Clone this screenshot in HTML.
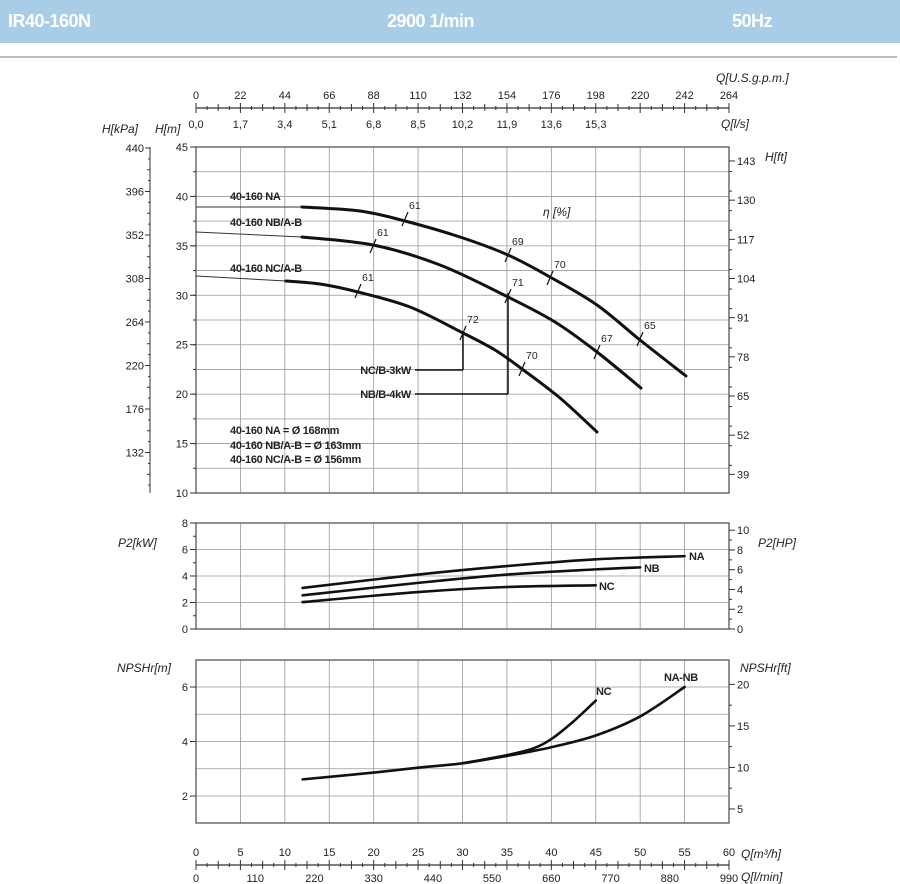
<!DOCTYPE html>
<html><head><meta charset="utf-8">
<style>
html,body{margin:0;padding:0;background:#fff;}
body{width:900px;height:884px;overflow:hidden;position:relative;font-family:"Liberation Sans",sans-serif;}
.hdr{position:absolute;left:0;top:0;width:900px;height:43px;background:#a9cde6;}
.hdr span{position:absolute;top:11px;color:#fff;font-weight:bold;font-size:18px;letter-spacing:-0.5px;}
.rule{position:absolute;left:0;top:56px;width:897px;height:2px;background:#bbb;}
svg{position:absolute;left:0;top:0;}
</style></head><body>
<div class="hdr"><span style="left:8px">IR40-160N</span><span style="left:387px">2900 1/min</span><span style="left:732px">50Hz</span></div>
<div class="rule"></div>
<svg id="s" width="900" height="884" xmlns="http://www.w3.org/2000/svg" font-family="Liberation Sans, sans-serif" font-size="11" fill="#222"></svg>
<script>
var s=document.getElementById('s');var o='';
function X(q){return 196+q*533/60;}
function Hy(h){return 147+(45-h)*346/35;}
function Py(k){return 629-k*13.25;}
function Ny(m){return 796-(m-2)*27.25;}
function L(x1,y1,x2,y2,c,w){o+='<line x1="'+x1+'" y1="'+y1+'" x2="'+x2+'" y2="'+y2+'" stroke="'+(c||'#333')+'" stroke-width="'+(w||1)+'"/>';}
function T(x,y,t,a,ex){o+='<text x="'+x+'" y="'+y+'" text-anchor="'+(a||'start')+'" '+(ex||'')+'>'+t+'</text>';}
function curve(pts,w,c){var d='M'+pts[0][0]+','+pts[0][1];
 for(var i=0;i<pts.length-1;i++){var p0=pts[i-1]||pts[i],p1=pts[i],p2=pts[i+1],p3=pts[i+2]||p2;
 d+=' C'+(p1[0]+(p2[0]-p0[0])/6)+','+(p1[1]+(p2[1]-p0[1])/6)+' '+(p2[0]-(p3[0]-p1[0])/6)+','+(p2[1]-(p3[1]-p1[1])/6)+' '+p2[0]+','+p2[1];}
 o+='<path d="'+d+'" fill="none" stroke="'+(c||'#111')+'" stroke-width="'+(w||3)+'" stroke-linecap="round"/>';}
var g='#999';
for(var q=5;q<60;q+=5){L(X(q),147,X(q),493,g,0.8);L(X(q),523,X(q),629,g,0.8);L(X(q),660,X(q),823,g,0.8);}
for(var h=12.5;h<45;h+=2.5)L(196,Hy(h),729,Hy(h),g,0.8);
for(var k=2;k<8;k+=2)L(196,Py(k),729,Py(k),g,0.8);
for(var m=2;m<7;m++)L(196,Ny(m),729,Ny(m),g,0.8);
o+='<rect x="196" y="147" width="533" height="346" fill="none" stroke="#555" stroke-width="1.3"/>';
o+='<rect x="196" y="523" width="533" height="106" fill="none" stroke="#555" stroke-width="1.3"/>';
o+='<rect x="196" y="660" width="533" height="163" fill="none" stroke="#555" stroke-width="1.3"/>';
L(196,108,729,108,'#333',1.2);
var gp=[0,22,44,66,88,110,132,154,176,198,220,242,264],ls=['0,0','1,7','3,4','5,1','6,8','8,5','10,2','11,9','13,6','15,3'];
for(var i=0;i<=12;i++){var x=X(i*5);L(x,103,x,113);T(x,99,gp[i],'middle');if(i<10)T(x,128,ls[i],'middle');}
for(var i=0;i<24;i++){var x=X(i*2.5+1.25);L(x,106,x,110);}
for(var i=0;i<12;i++){L(X(i*5+2.5),104,X(i*5+2.5),111);}
T(716,82,'Q[U.S.g.p.m.]','start','font-style="italic" font-size="12"');
T(721,128,'Q[l/s]','start','font-style="italic" font-size="12"');
L(196,865,729,865,'#333',1.2);
for(var i=0;i<=12;i++){var x=X(i*5);L(x,860,x,870);T(x,856,i*5,'middle');if(i<=9)T(X(i*110/990*60*60/60*1),882,i*110,'middle');}
for(var i=0;i<24;i++){var x=X(i*2.5+1.25);L(x,863,x,867);}
for(var i=0;i<12;i++)L(X(i*5+2.5),861,X(i*5+2.5),869);
T(741,858,'Q[m³/h]','start','font-style="italic" font-size="12"');
T(741,881,'Q[l/min]','start','font-style="italic" font-size="12"');
L(150,147,150,493,'#333',1);
var kp=[440,396,352,308,264,220,176,132];
for(var i=0;i<8;i++){var y=148+i*43.5;L(145,y,150,y);T(144,y+4,kp[i],'end');L(147,y+21.75,150,y+21.75);L(148,y+10.9,150,y+10.9);L(148,y+32.6,150,y+32.6);}
T(102,133,'H[kPa]','start','font-style="italic" font-size="12"');
T(155,133,'H[m]','start','font-style="italic" font-size="12"');
for(var h=10;h<=45;h+=5){L(190,Hy(h),196,Hy(h));T(188,Hy(h)+4,h,'end');}
for(var h=12.5;h<45;h+=2.5)L(193,Hy(h),196,Hy(h));
var ft=[143,130,117,104,91,78,65,52,39];
for(var i=0;i<9;i++){var y=Hy(ft[i]*0.3048);L(729,y,735,y);T(737,y+4,ft[i]);}
for(var f=42;f<146;f+=6.5){var y=Hy(f*0.3048);if(y>147&&y<493)L(729,y,732,y);}
T(765,161,'H[ft]','start','font-style="italic" font-size="12"');
for(var k=0;k<=8;k+=2){L(190,Py(k),196,Py(k));T(188,Py(k)+4,k,'end');}
for(var k=1;k<8;k+=2)L(193,Py(k),196,Py(k));
for(var hp=0;hp<=10;hp+=2){var y=Py(hp*0.7457);L(729,y,735,y);T(737,y+4,hp);}
for(var hp=1;hp<=10;hp+=2){var y=Py(hp*0.7457);L(729,y,732,y);}
T(118,547,'P2[kW]','start','font-style="italic" font-size="12"');
T(758,547,'P2[HP]','start','font-style="italic" font-size="12"');
for(var m=2;m<=6;m+=2){L(190,Ny(m),196,Ny(m));T(188,Ny(m)+4,m,'end');}
for(var f=5;f<=20;f+=5){var y=Ny(f*0.3048);L(729,y,735,y);T(737,y+4,f);}
for(var f=7.5;f<=22;f+=5){var y=Ny(f*0.3048);if(y>660)L(729,y,732,y);}
T(117,672,'NPSHr[m]','start','font-style="italic" font-size="12"');
T(740,672,'NPSHr[ft]','start','font-style="italic" font-size="12"');
L(196,207,302,207,'#333',1);L(196,232,302,237,'#333',1);L(196,276,286,281,'#333',1);
curve([[302,207],[360,211],[405,221],[460,237],[508,255],[550,277],[597,305],[640,340],[686,376]]);
curve([[302,237],[373,245],[440,265],[508,297],[555,322],[597,352],[641,388]]);
curve([[286,281],[320,284],[358,292],[410,307],[463,333],[495,350],[522,369],[560,398],[597,432]]);
o+='<g font-weight="bold" font-size="11" letter-spacing="-0.3">';
T(230,200,'40-160 NA');T(230,226,'40-160 NB/A-B');T(230,272,'40-160 NC/A-B');
T(230,434,'40-160 NA = Ø 168mm');T(230,449,'40-160 NB/A-B = Ø 163mm');T(230,463,'40-160 NC/A-B = Ø 156mm');
T(411,374,'NC/B-3kW','end');T(411,398,'NB/B-4kW','end');
T(689,560,'NA');T(644,572,'NB');T(599,590,'NC');T(596,695,'NC');T(664,681,'NA-NB');
o+='</g>';
L(415,370,463,370,'#111',1.5);L(463,370,463,333,'#111',1.5);
L(415,394,508,394,'#111',1.5);L(508,394,508,293,'#111',1.5);
var ef=[[405,219,'61'],[508,255,'69'],[550,278,'70'],[640,339,'65'],[373,246,'61'],[508,296,'71'],[597,352,'67'],[358,291,'61'],[463,333,'72'],[522,369,'70']];
ef.forEach(function(e){L(e[0]-3,e[1]+7,e[0]+3,e[1]-7,'#111',1.2);T(e[0]+4,e[1]-10,e[2],'start','font-size="10.5"');});
T(543,216,'η [%]','start','font-style="italic" font-size="12"');
function pc(a){return a.map(function(p){return [X(p[0]),Py(p[1])];});}
curve(pc([[12,3.1],[25,4.11],[35,4.75],[45,5.26],[55,5.5]]),2.6);
curve(pc([[12,2.54],[25,3.48],[35,4.11],[45,4.5],[50,4.65]]),2.6);
curve(pc([[12,2.03],[25,2.79],[35,3.17],[45,3.3]]),2.6);
function nc(a){return a.map(function(p){return [X(p[0]),Ny(p[1])];});}
curve(nc([[12,2.61],[20,2.86],[25,3.04],[30,3.2],[35,3.47],[40,3.79],[45,4.22],[50,4.92],[55,6]]),2.6);
curve(nc([[30,3.2],[35,3.5],[38,3.75],[40,4.09],[42.5,4.74],[45,5.5]]),2.6);
s.innerHTML=o;
</script>
</body></html>
